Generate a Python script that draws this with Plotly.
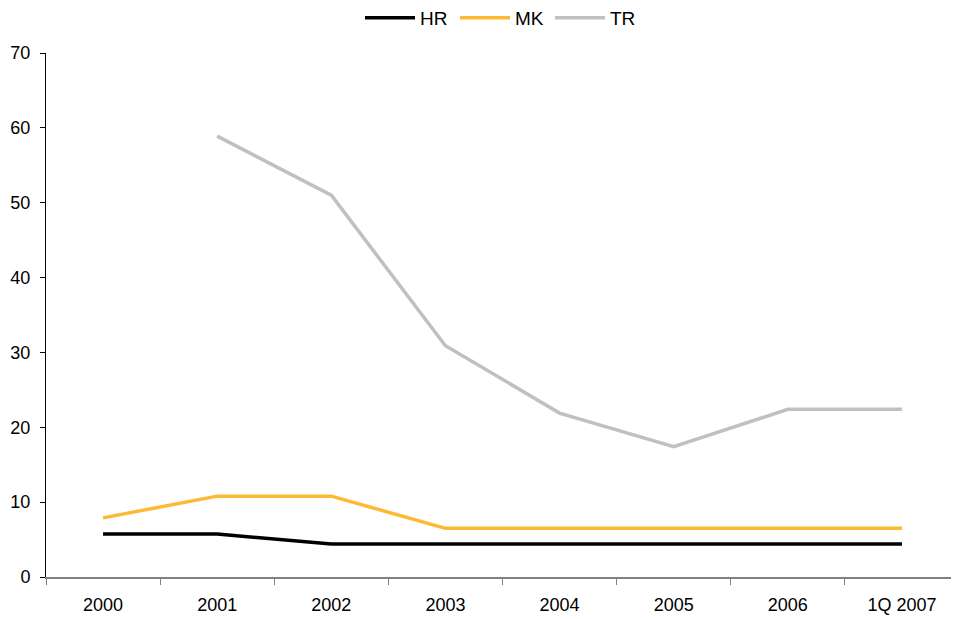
import plotly.graph_objects as go

categories = ["2000", "2001", "2002", "2003", "2004", "2005", "2006", "1Q 2007"]
hr = [5.75, 5.75, 4.4, 4.4, 4.4, 4.4, 4.4, 4.4]
mk = [7.9, 10.8, 10.8, 6.5, 6.5, 6.5, 6.5, 6.5]
tr = [None, 58.9, 51.0, 30.9, 21.9, 17.4, 22.4, 22.4]
y_ticks = [0, 10, 20, 30, 40, 50, 60, 70]

fig = go.Figure()
for name, vals, col in [("HR", hr, "#000000"), ("MK", mk, "#FDB933"), ("TR", tr, "#C0C0C0")]:
    fig.add_trace(go.Scatter(x=categories, y=vals, name=name, mode="lines",
                             line=dict(color=col, width=3.5), connectgaps=False))

fig.update_layout(
    width=951, height=611,
    margin=dict(l=38, r=0, t=45, b=42, autoexpand=False),
    paper_bgcolor="white", plot_bgcolor="white",
    font=dict(family="Liberation Sans, Arial, sans-serif", size=18, color="#000"),
    legend=dict(orientation="h", x=0.5, xanchor="center", y=1.067, yanchor="middle",
                font=dict(size=19), tracegroupgap=0, entrywidth=30, itemwidth=50),
    showlegend=True,
)
fig.update_xaxes(type="category", showline=True, linecolor="#808080", linewidth=1.5,
                 ticks="outside", tickson="boundaries", ticklen=6, tickcolor="#808080",
                 showgrid=False, zeroline=False, range=[-0.5, 7.5], automargin=False,
                 ticklabelstandoff=11)
fig.update_yaxes(range=[0, 70], tickvals=y_ticks, showline=True, linecolor="#000",
                 linewidth=1, ticks="outside", ticklen=5, tickcolor="#000",
                 showgrid=False, zeroline=False, automargin=False, ticklabelstandoff=6)

fig.write_html("out.html")
